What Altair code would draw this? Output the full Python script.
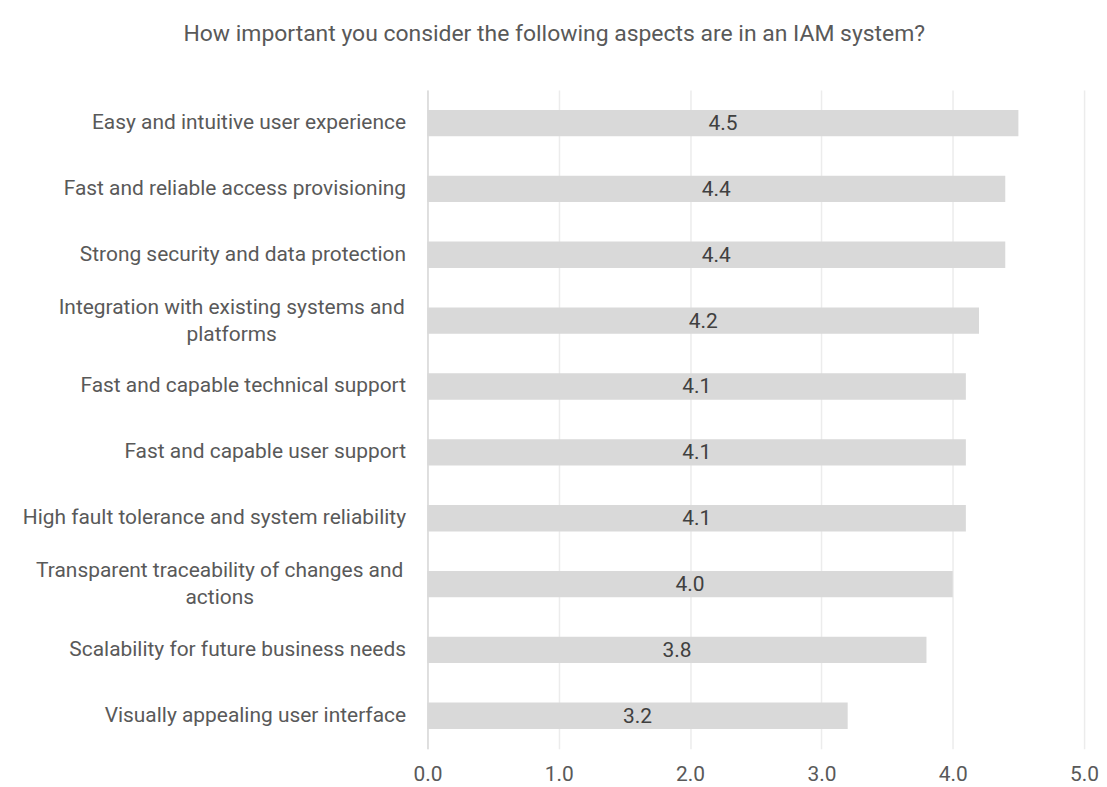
import altair as alt
import pandas as pd

categories = [
    "Easy and intuitive user experience",
    "Fast and reliable access provisioning",
    "Strong security and data protection",
    "Integration with existing systems and|platforms",
    "Fast and capable technical support",
    "Fast and capable user support",
    "High fault tolerance and system reliability",
    "Transparent traceability of changes and|actions",
    "Scalability for future business needs",
    "Visually appealing user interface",
]
values = [4.5, 4.4, 4.4, 4.2, 4.1, 4.1, 4.1, 4.0, 3.8, 3.2]
x_ticks = [0, 1, 2, 3, 4, 5]

df = pd.DataFrame({"cat": categories, "val": values})
df["label"] = df["val"].map(lambda v: f"{v:.1f}")

FONT = "Roboto"
GREY = "#595959"
FS = 21

is_wrap = "indexof(datum.value, '|') >= 0"
is_integ = "indexof(datum.value, 'Integration') >= 0"
is_trans = "indexof(datum.value, 'Transparent') >= 0"

y_enc = alt.Y(
    "cat:N",
    sort=categories,
    title=None,
    scale=alt.Scale(paddingInner=0.6, paddingOuter=0.3),
    axis=alt.Axis(
        labelExpr="split(datum.label, '|')",
        labelFont=FONT,
        labelFontSize=FS,
        labelColor=GREY,
        labelPadding={
            "condition": [
                {"test": is_integ, "value": 197},
                {"test": is_trans, "value": 209},
            ],
            "value": 22,
        },
        labelAlign={"condition": {"test": is_wrap, "value": "center"}, "value": "right"},
        labelOffset={"condition": {"test": is_wrap, "value": -13}, "value": 0},
        labelLimit=500,
        ticks=False,
        domain=True,
        domainColor="#d9d9d9",
        domainWidth=1.5,
        labelLineHeight=27,
        grid=False,
    ),
)

x_enc = alt.X(
    "val:Q",
    title=None,
    scale=alt.Scale(domain=[0, 5], nice=False),
    axis=alt.Axis(
        values=x_ticks,
        format=".1f",
        labelFont=FONT,
        labelFontSize=FS,
        labelColor=GREY,
        labelPadding=15,
        labelFlush=False,
        ticks=False,
        domain=False,
        grid=True,
        gridColor="#ececec",
        gridWidth=1.5,
    ),
)

bars = alt.Chart(df).mark_bar(color="#d9d9d9").encode(x=x_enc, y=y_enc)

text = (
    alt.Chart(df)
    .transform_calculate(mid="datum.val / 2")
    .mark_text(font=FONT, fontSize=FS, color="#404040", align="center", baseline="middle", dy=1)
    .encode(
        x=alt.X("mid:Q"),
        y=alt.Y("cat:N", sort=categories),
        text="label:N",
    )
)

chart = (
    alt.layer(bars, text)
    .properties(
        width=659,
        height=661,
        view=alt.ViewBackground(stroke="transparent", strokeWidth=0),
        padding={"top": 14, "left": 13, "right": 0, "bottom": 0},
        title=alt.TitleParams(
            "How important you consider the following aspects are in an IAM system?",
            font=FONT,
            fontSize=23,
            fontWeight="normal",
            color=GREY,
            anchor="middle",
            frame="bounds",
            offset=44,
            dx=-6,
        ),
    )
    .configure_view(stroke="transparent", strokeWidth=0)
    .configure(background="white")
)

chart.save("out.html", embed_options={"renderer": "svg", "actions": False})
